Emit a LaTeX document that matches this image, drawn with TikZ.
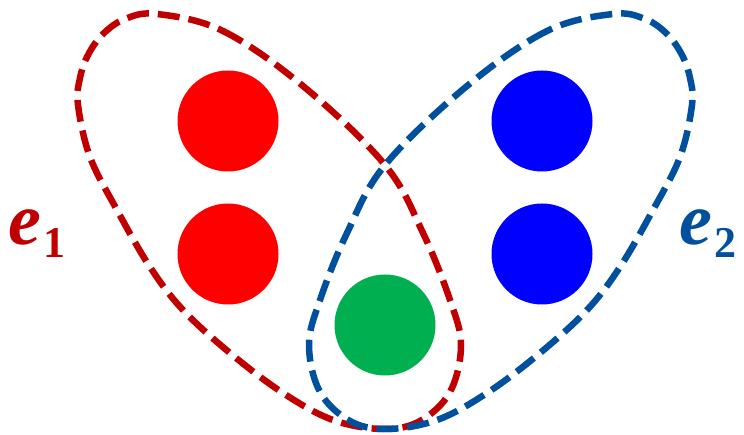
\documentclass[tikz,border=0pt]{standalone}
\usepackage{fontspec}
\setmainfont{Liberation Serif}
\definecolor{edgered}{RGB}{192,0,0}
\definecolor{edgeblue}{RGB}{0,80,158}
\definecolor{vred}{RGB}{255,0,0}
\definecolor{vblue}{RGB}{0,0,255}
\definecolor{vgreen}{RGB}{0,176,80}
\newcommand{\elab}[1]{{\fontsize{74}{78}\selectfont\bfseries\itshape e}\kern2pt\raisebox{-13pt}{\fontsize{44}{48}\selectfont\bfseries #1}}
\begin{document}
\begin{tikzpicture}[x=1pt,y=-1pt,
  vertex/.style={circle,minimum size=101pt,inner sep=0pt,draw=none},
  hedge/.style={line width=6.5pt,dash pattern=on 22pt off 9pt},
  elabel/.style={inner sep=0pt,anchor=base west}]
\useasboundingbox (0,0) rectangle (744,435);
\node[vertex,fill=vred] (r1) at (228,121) {};
\node[vertex,fill=vred] (r2) at (228,254) {};
\node[vertex,fill=vblue] (b1) at (542,121) {};
\node[vertex,fill=vblue] (b2) at (542,254) {};
\node[vertex,fill=vgreen] (g) at (385,325) {};
\draw[hedge,draw=edgered] plot[smooth cycle,tension=0.6] coordinates {
  (157,14) (223,31) (303,86) (385,165) (423,233) (450,300) (461,345)
  (450,392) (420,421) (383,429) (333,420) (283,393) (230,353) (183,310)
  (150,267) (117,210) (90,157) (78,105) (80,78) (88,55) (103,34) (125,19)};
\draw[hedge,draw=edgeblue] plot[smooth cycle,tension=0.6] coordinates {
  (613,14) (547,31) (467,86) (385,165) (347,233) (320,300) (309,345)
  (320,392) (350,421) (387,429) (437,420) (487,393) (540,353) (587,310)
  (620,267) (653,210) (680,157) (692,105) (690,78) (682,55) (667,34) (645,19)};
\node[elabel,text=edgered] (e1) at (8,245) {\elab{1}};
\node[elabel,text=edgeblue] (e2) at (679,245) {\elab{2}};
\end{tikzpicture}
\end{document}
